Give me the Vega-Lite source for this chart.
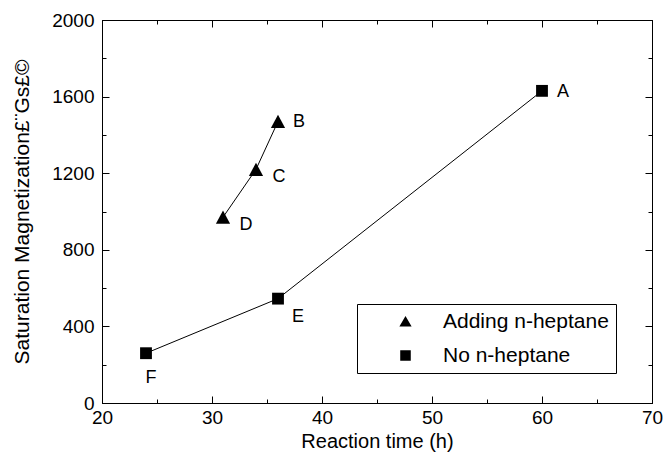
{
  "$schema": "https://vega.github.io/schema/vega-lite/v6.json",
  "width": 550,
  "height": 383,
  "autosize": {"type": "none"},
  "padding": {"left": 102, "top": 20, "right": 13, "bottom": 56},
  "background": "white",
  "config": {
    "view": {"stroke": "black", "strokeWidth": 1},
    "font": "Liberation Sans",
    "axis": {
      "grid": false,
      "domainColor": "black",
      "tickColor": "black",
      "labelColor": "black",
      "titleColor": "black",
      "labelFont": "Liberation Sans",
      "titleFont": "Liberation Sans",
      "labelFontSize": 19,
      "titleFontSize": 20,
      "titleFontWeight": "normal",
      "tickWidth": 1,
      "domainWidth": 1
    }
  },
  "data": {
    "values": [
      {"t": 60, "m": 1630, "s": "No n-heptane", "label": "A"},
      {"t": 36, "m": 545, "s": "No n-heptane", "label": "E"},
      {"t": 24, "m": 260, "s": "No n-heptane", "label": "F"},
      {"t": 36, "m": 1470, "s": "Adding n-heptane", "label": "B"},
      {"t": 34, "m": 1220, "s": "Adding n-heptane", "label": "C"},
      {"t": 31, "m": 970, "s": "Adding n-heptane", "label": "D"}
    ]
  },
  "resolve": {
    "axis": {"x": "independent", "y": "independent"},
    "scale": {"shape": "independent"},
    "legend": {"shape": "independent"}
  },
  "layer": [
    {
      "mark": {"type": "line", "color": "black", "strokeWidth": 1},
      "encoding": {
        "x": {
          "field": "t", "type": "quantitative",
          "scale": {"domain": [20, 70], "nice": false, "zero": false},
          "axis": {
            "orient": "bottom",
            "title": "Reaction time (h)",
            "values": [20, 25, 30, 35, 40, 45, 50, 55, 60, 65, 70],
            "labelExpr": "datum.value % 10 === 0 ? datum.label : ''",
            "tickSize": {"condition": {"test": "datum.value % 10 === 0", "value": -7}, "value": -4},
            "labelPadding": 12,
            "titlePadding": 4,
            "labelFlush": false
          }
        },
        "y": {
          "field": "m", "type": "quantitative",
          "scale": {"domain": [0, 2000], "nice": false},
          "axis": {
            "orient": "left",
            "title": "Saturation Magnetization£¨Gs£©",
            "titleFontSize": 21,
            "values": [0, 200, 400, 600, 800, 1000, 1200, 1400, 1600, 1800, 2000],
            "labelExpr": "datum.value % 400 === 0 ? '' + datum.value : ''",
            "tickSize": {"condition": {"test": "datum.value % 400 === 0", "value": -7}, "value": -4},
            "labelPadding": 15,
            "titlePadding": 19
          }
        },
        "detail": {"field": "s"}
      }
    },
    {
      "mark": {"type": "point", "filled": true, "color": "black", "opacity": 1, "size": 140},
      "encoding": {
        "x": {"field": "t", "type": "quantitative", "axis": null},
        "y": {"field": "m", "type": "quantitative", "axis": null},
        "shape": {
          "field": "s", "type": "nominal",
          "scale": {"domain": ["Adding n-heptane", "No n-heptane"], "range": ["M0,-1.12L1.2,1.12L-1.2,1.12Z", "square"]},
          "legend": null
        }
      }
    },
    {
      "transform": [{"filter": "datum.t > 1000"}],
      "mark": {"type": "point", "filled": false, "fill": "black", "stroke": "black", "fillOpacity": 1, "strokeOpacity": 1, "opacity": 1, "strokeWidth": 1},
      "encoding": {
        "x": {"field": "t", "type": "quantitative", "axis": null},
        "y": {"field": "m", "type": "quantitative", "axis": null},
        "shape": {
          "field": "s", "type": "nominal",
          "scale": {
            "domain": ["Adding n-heptane", "No n-heptane"],
            "range": [
              "M-1.94,0L-0.72,0M0.72,0L1.94,0M0,-0.66L0.72,0.6L-0.72,0.6Z",
              "M-1.94,0L-0.62,0M0.62,0L1.94,0M-0.62,-0.62L0.62,-0.62L0.62,0.62L-0.62,0.62Z"
            ]
          },
          "legend": {
            "title": null,
            "orient": "none",
            "legendX": 255,
            "legendY": 284,
            "strokeColor": "black",
            "padding": 7,
            "cornerRadius": 0,
            "labelFont": "Liberation Sans",
            "labelFontSize": 21,
            "labelColor": "black",
            "labelLimit": 400,
            "symbolSize": 289,
            "symbolOffset": 31,
            "labelOffset": 27,
            "rowPadding": 12,
            "symbolFillColor": "black",
            "symbolStrokeColor": "black",
            "symbolStrokeWidth": 1,
            "symbolOpacity": 1
          }
        }
      }
    },
    {
      "transform": [{"filter": "datum.label === 'A' || datum.label === 'B'"}],
      "mark": {"type": "text", "dx": 21, "dy": 1, "fontSize": 18, "color": "black", "font": "Liberation Sans"},
      "encoding": {
        "x": {"field": "t", "type": "quantitative", "axis": null},
        "y": {"field": "m", "type": "quantitative", "axis": null},
        "text": {"field": "label"}
      }
    },
    {
      "transform": [{"filter": "datum.label === 'C' || datum.label === 'D'"}],
      "mark": {"type": "text", "dx": 23, "dy": 8, "fontSize": 18, "color": "black", "font": "Liberation Sans"},
      "encoding": {
        "x": {"field": "t", "type": "quantitative", "axis": null},
        "y": {"field": "m", "type": "quantitative", "axis": null},
        "text": {"field": "label"}
      }
    },
    {
      "transform": [{"filter": "datum.label === 'E'"}],
      "mark": {"type": "text", "dx": 20, "dy": 18, "fontSize": 18, "color": "black", "font": "Liberation Sans"},
      "encoding": {
        "x": {"field": "t", "type": "quantitative", "axis": null},
        "y": {"field": "m", "type": "quantitative", "axis": null},
        "text": {"field": "label"}
      }
    },
    {
      "transform": [{"filter": "datum.label === 'F'"}],
      "mark": {"type": "text", "dx": 5, "dy": 25, "fontSize": 18, "color": "black", "font": "Liberation Sans"},
      "encoding": {
        "x": {"field": "t", "type": "quantitative", "axis": null},
        "y": {"field": "m", "type": "quantitative", "axis": null},
        "text": {"field": "label"}
      }
    },
    {
      "mark": {"type": "point", "opacity": 0},
      "encoding": {
        "x": {
          "field": "t", "type": "quantitative",
          "axis": {
            "orient": "top", "title": null, "labels": false,
            "values": [20, 25, 30, 35, 40, 45, 50, 55, 60, 65, 70],
            "tickSize": {"condition": {"test": "datum.value % 10 === 0", "value": -7}, "value": -4}
          }
        },
        "y": {
          "field": "m", "type": "quantitative",
          "axis": {
            "orient": "right", "title": null, "labels": false,
            "values": [0, 200, 400, 600, 800, 1000, 1200, 1400, 1600, 1800, 2000],
            "tickSize": {"condition": {"test": "datum.value % 400 === 0", "value": -7}, "value": -4}
          }
        }
      }
    }
  ]
}
